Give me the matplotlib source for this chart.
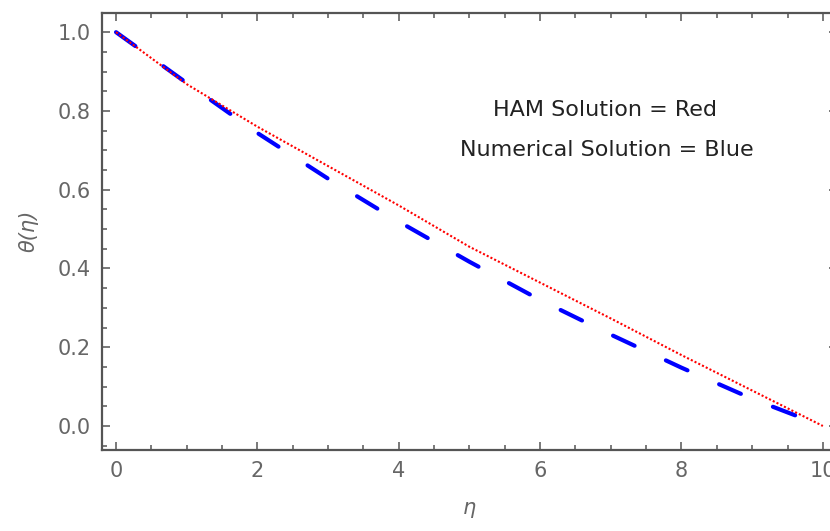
import matplotlib
matplotlib.use("Agg")
import matplotlib.pyplot as plt
from matplotlib.ticker import MultipleLocator

# Data
eta = [0, 1, 2, 3, 4, 5, 6, 7, 8, 9, 10]
theta_ham = [1.0, 0.868, 0.760, 0.660, 0.560, 0.455, 0.364, 0.273, 0.180, 0.090, 0.0]
theta_num = [1.0, 0.871, 0.744, 0.628, 0.519, 0.417, 0.320, 0.232, 0.148, 0.069, 0.0]

x_label = "η"
y_label = "θ(η)"
note_ham = "HAM Solution = Red"
note_num = "Numerical Solution = Blue"

plt.rcParams['font.family'] = ['DejaVu Sans']

fig = plt.figure(figsize=(8.30, 5.31), dpi=100)
ax = fig.add_axes([101.9 / 830, (531 - 450) / 531, (837 - 101.9) / 830, (450 - 12.5) / 531])

ax.plot(eta, theta_num, color='#0000ff', linewidth=3.0, linestyle=(0, (5.7, 8.3)),
        dash_capstyle='round', zorder=2)
ax.plot(eta, theta_ham, color='#ff0000', linewidth=1.5, linestyle=(0, (1, 1)), zorder=3)

ax.set_xlim(-0.2, 10.2)
ax.set_ylim(-0.061, 1.05)

ax.xaxis.set_major_locator(MultipleLocator(2))
ax.xaxis.set_minor_locator(MultipleLocator(0.5))
ax.yaxis.set_major_locator(MultipleLocator(0.2))
ax.yaxis.set_minor_locator(MultipleLocator(0.05))
ax.xaxis.set_major_formatter(plt.FuncFormatter(lambda v, p: f"{v:.0f}"))
ax.yaxis.set_major_formatter(plt.FuncFormatter(lambda v, p: f"{v:.1f}"))

spine_col = '#555555'
for s in ax.spines.values():
    s.set_color(spine_col)
    s.set_linewidth(1.6)

ax.tick_params(which='both', direction='in', top=True, right=True, color=spine_col,
               width=1.1, labelcolor='#666666', labelsize=15)
ax.tick_params(which='major', length=6, pad=8)
ax.tick_params(which='minor', length=3.6)

ax.set_xlabel(x_label, fontsize=15, color='#666666', style='italic', labelpad=12)
ax.set_ylabel(y_label, fontsize=15, color='#666666', style='italic', labelpad=14)

ax.text(6.92, 0.802, note_ham, ha='center', va='center', fontsize=16, color='#222222')
ax.text(6.94, 0.700, note_num, ha='center', va='center', fontsize=16, color='#222222')

fig.savefig("out.png", dpi=100)
